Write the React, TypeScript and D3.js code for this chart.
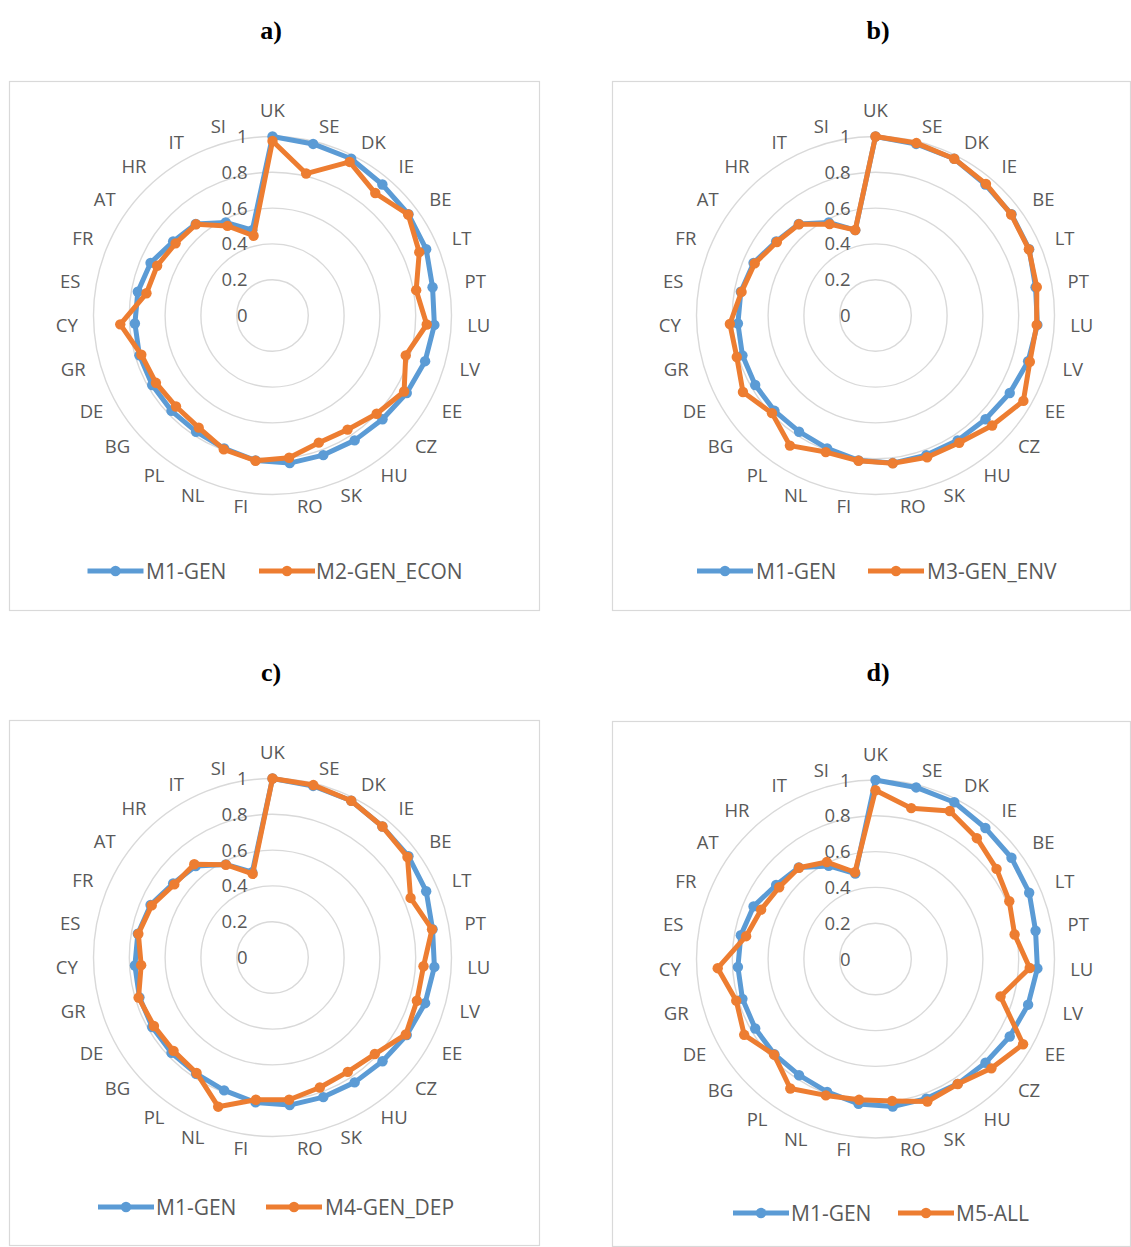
import React, { useEffect, useRef } from "react";
import * as d3 from "d3";

// ---------- data ----------
const categories = ["UK","SE","DK","IE","BE","LT","PT","LU","LV","EE","CZ","HU","SK","RO","FI","NL","PL","BG","DE","GR","CY","ES","FR","AT","HR","IT","SI"];
const tickValues = [0, 0.2, 0.4, 0.6, 0.8, 1];
const tickLabels = ["0", "0.2", "0.4", "0.6", "0.8", "1"];
const ringValues = [0.2, 0.4, 0.6, 0.8, 1];

const m1Gen = [1.0,0.985,0.98,0.955,0.947,0.935,0.908,0.906,0.89,0.866,0.845,0.835,0.83,0.83,0.815,0.79,0.777,0.776,0.776,0.776,0.77,0.764,0.742,0.692,0.667,0.582,0.49];
const m2GenEcon = [0.975,0.815,0.96,0.893,0.945,0.893,0.815,0.863,0.777,0.849,0.80,0.763,0.756,0.80,0.817,0.796,0.75,0.741,0.752,0.765,0.852,0.715,0.702,0.675,0.665,0.56,0.458];
const m3GenEnv = [1.0,0.99,0.98,0.96,0.945,0.933,0.915,0.902,0.90,0.954,0.896,0.851,0.843,0.831,0.817,0.812,0.87,0.795,0.855,0.809,0.815,0.76,0.735,0.687,0.665,0.571,0.491];
const m4GenDep = [1.0,0.99,0.98,0.955,0.94,0.84,0.905,0.845,0.842,0.86,0.786,0.765,0.773,0.80,0.80,0.887,0.772,0.76,0.765,0.781,0.735,0.761,0.735,0.684,0.68,0.58,0.48];
const m5All = [0.943,0.866,0.925,0.881,0.843,0.814,0.789,0.863,0.729,0.952,0.89,0.836,0.847,0.798,0.792,0.811,0.866,0.779,0.847,0.812,0.883,0.734,0.696,0.671,0.665,0.606,0.498];

const baseName = "M1-GEN";
const panelTitles = ["a)", "b)", "c)", "d)"];
const compareNames = ["M2-GEN_ECON", "M3-GEN_ENV", "M4-GEN_DEP", "M5-ALL"];
const compareSeries = [m2GenEcon, m3GenEnv, m4GenDep, m5All];

// ---------- layout ----------
const W = 1131, H = 1247;
const BLUE = "#5B9BD5";
const ORANGE = "#ED7D31";
const TEXT = "#595959";
const GRID = "#d9d9d9";
const FONT = "'Open Sans', 'DejaVu Sans', sans-serif";
const R = 179;

const layouts = [
  { cx: 272.5, cy: 315.5, titleX: 271, titleY: 39, box: [9.5, 81.5, 539.5, 610.5], legendY: 571, legendX: [87.5, 146, 259, 316] },
  { cx: 875.5, cy: 315.5, titleX: 878, titleY: 39, box: [612.5, 81.5, 1130.5, 610.5], legendY: 571, legendX: [697, 756, 868, 927] },
  { cx: 272.5, cy: 957.5, titleX: 271, titleY: 681, box: [9.5, 720.5, 539.5, 1245.5], legendY: 1207, legendX: [98, 156, 266, 325] },
  { cx: 875.5, cy: 959, titleX: 878, titleY: 681, box: [612.5, 721.5, 1130.5, 1246.5], legendY: 1213, legendX: [733, 791, 898, 956] },
];

export default function App() {
  const ref = useRef<SVGSVGElement | null>(null);

  useEffect(() => {
    const svg = d3.select(ref.current);
    svg.selectAll("*").remove();
    svg.append("rect").attr("width", W).attr("height", H).attr("fill", "#fff");

    const n = categories.length;
    const angle = d3.scaleLinear().domain([0, n]).range([0, 2 * Math.PI]);
    const radius = d3.scaleLinear().domain([0, 1]).range([0, R]);

    layouts.forEach((L, p) => {
      // title
      svg.append("text")
        .attr("x", L.titleX).attr("y", L.titleY)
        .attr("text-anchor", "middle")
        .attr("font-family", "'Liberation Serif', 'Times New Roman', serif")
        .attr("font-weight", "bold").attr("font-size", 26).attr("fill", "#000")
        .text(panelTitles[p]);

      // box
      const [x0, y0, x1, y1] = L.box;
      svg.append("rect")
        .attr("x", x0).attr("y", y0).attr("width", x1 - x0).attr("height", y1 - y0)
        .attr("fill", "#fff").attr("stroke", GRID).attr("stroke-width", 1.2);

      const g = svg.append("g").attr("transform", `translate(${L.cx},${L.cy})`);

      // rings
      ringValues.forEach((v) => {
        g.append("circle").attr("r", radius(v))
          .attr("fill", "none").attr("stroke", GRID).attr("stroke-width", 1.4);
      });

      // tick labels
      tickValues.forEach((v, i) => {
        g.append("text")
          .attr("x", -25).attr("y", -radius(v) + 6.5)
          .attr("text-anchor", "end")
          .attr("font-family", FONT).attr("font-size", 18.5).attr("fill", TEXT)
          .text(tickLabels[i]);
      });

      // category labels
      const rho = R + 14;
      categories.forEach((c, i) => {
        const a = angle(i);
        const s = Math.sin(a), co = Math.cos(a);
        let anchor = "middle";
        let x = rho * s;
        let capsY = -rho * co - 1;
        if (s > 0.01) { anchor = "start"; x += 2; }
        else if (s < -0.01) { anchor = "end"; x -= 2; }
        else { capsY = -rho - 12; }
        g.append("text")
          .attr("x", x).attr("y", capsY + 6.5)
          .attr("text-anchor", anchor)
          .attr("font-family", FONT).attr("font-size", 18.5).attr("fill", TEXT)
          .text(c);
      });

      // series
      const seriesList = [
        { values: m1Gen, color: BLUE },
        { values: compareSeries[p], color: ORANGE },
      ];
      const line = d3.lineRadial<number>()
        .angle((_, i) => angle(i))
        .radius((d) => radius(d))
        .curve(d3.curveLinearClosed);
      seriesList.forEach((s) => {
        g.append("path").attr("d", line(s.values) as string)
          .attr("fill", "none").attr("stroke", s.color)
          .attr("stroke-width", 5).attr("stroke-linejoin", "round");
        g.selectAll(null).data(s.values).enter().append("circle")
          .attr("cx", (d, i) => radius(d) * Math.sin(angle(i)))
          .attr("cy", (d, i) => -radius(d) * Math.cos(angle(i)))
          .attr("r", 5.2).attr("fill", s.color);
      });

      // legend
      const items = [
        { name: baseName, color: BLUE, lx: L.legendX[0], tx: L.legendX[1] },
        { name: compareNames[p], color: ORANGE, lx: L.legendX[2], tx: L.legendX[3] },
      ];
      items.forEach((it) => {
        svg.append("line")
          .attr("x1", it.lx).attr("x2", it.lx + 56)
          .attr("y1", L.legendY).attr("y2", L.legendY)
          .attr("stroke", it.color).attr("stroke-width", 5);
        svg.append("circle").attr("cx", it.lx + 28).attr("cy", L.legendY)
          .attr("r", 5.2).attr("fill", it.color);
        svg.append("text")
          .attr("x", it.tx).attr("y", L.legendY + 7.5)
          .attr("font-family", FONT).attr("font-size", 21).attr("fill", TEXT)
          .text(it.name);
      });
    });
  }, []);

  return (
    <svg
      ref={ref}
      width={W}
      height={H}
      style={{ position: "absolute", left: 0, top: 0, display: "block" }}
    />
  );
}
